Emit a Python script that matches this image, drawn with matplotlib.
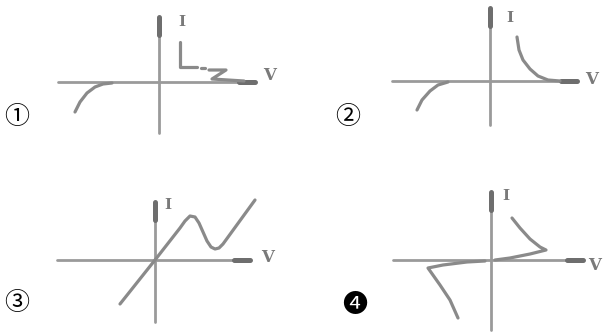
import matplotlib
matplotlib.use("Agg")
from matplotlib import pyplot as plt

W, H = 607, 334

# panel layout in pixels: (x0, y0, w, h, origin_x, origin_y)
panels = [
    (0, 0, 303, 167, 159, 82),
    (303, 0, 304, 167, 490, 81),
    (0, 167, 303, 167, 155, 260),
    (303, 167, 304, 167, 491, 260),
]

# axis extents relative to origin: (v_min, v_max, i_min, i_max)
axis_ext = [
    (-101, 96, -51, 65),
    (-98, 87, -44, 73),
    (-98, 95, -62, 58),
    (-98, 92, -70, 68),
]

numbers = ["\u2460", "\u2461", "\u2462", "\u2779"]
number_pos = [(17, 117), (348, 117), (17, 303), (355, 305)]

# I-V curves (V, I), per panel a list of strokes
curve1_a_v = [-84, -79, -72, -64, -56, -47]
curve1_a_i = [-30, -20, -11, -5, -2, -1]
curve1_b_v = [21, 21, 21, 30, 38]
curve1_b_i = [40, 27, 15, 15, 15]
curve1_c_v = [42, 46]
curve1_c_i = [14, 14]
curve1_d_v = [50, 67, 53, 85]
curve1_d_i = [12, 12, 3, 1]

curve2_a_v = [-73, -68, -60, -52, -42]
curve2_a_i = [-29, -19, -10, -4, -1]
curve2_b_v = [27, 29, 33, 40, 48, 58, 70]
curve2_b_i = [44, 31, 21, 12, 5, 1, 0]

curve3_v = [-35, 0, 25, 30, 35, 40, 44, 48, 52, 56, 60, 64, 68, 100]
curve3_i = [-44, 0, 32, 39, 44, 43, 37, 28, 19, 13, 11, 12, 16, 60]

curve4_a_v = [21, 29, 39, 49, 55, 39, 19, 4]
curve4_a_i = [42, 32, 21, 13, 10, 6, 2, 0]
curve4_b_v = [-33, -41, -51, -63, -48, -24, -6]
curve4_b_i = [-58, -40, -25, -8, -5, -2, -1]

strokes = [
    [(curve1_a_v, curve1_a_i), (curve1_b_v, curve1_b_i),
     (curve1_c_v, curve1_c_i), (curve1_d_v, curve1_d_i)],
    [(curve2_a_v, curve2_a_i), (curve2_b_v, curve2_b_i)],
    [(curve3_v, curve3_i)],
    [(curve4_a_v, curve4_a_i), (curve4_b_v, curve4_b_i)],
]

label_i_pos = [(23, 60), (20, 63), (13, 55), (15, 64)]
label_v_pos = [(111, 7), (102, 1), (113, 2), (104, -5)]

line_col = "#8a8a8a"
axis_col = "#9a9a9a"
head_col = "#6e6e6e"

fig = plt.figure(figsize=(W / 100, H / 100), dpi=100)
fig.patch.set_facecolor("white")

for k, (x0, y0, w, h, ox, oy) in enumerate(panels):
    ax = fig.add_axes([x0 / W, 1 - (y0 + h) / H, w / W, h / H])
    ax.set_xlim(x0 - ox, x0 + w - ox)
    ax.set_ylim(oy - (y0 + h), oy - y0)
    ax.axis("off")

    vmin, vmax, imin, imax = axis_ext[k]
    ax.plot([vmin, vmax], [0, 0], color=axis_col, lw=2.0, solid_capstyle="round")
    ax.plot([0, 0], [imin, imax], color=axis_col, lw=2.0, solid_capstyle="round")
    # thick arrow ends
    ax.plot([vmax - 16, vmax], [0, 0], color=head_col, lw=3.6, solid_capstyle="round")
    ax.plot([0, 0], [imax - 18, imax], color=head_col, lw=3.6, solid_capstyle="round")

    for sv, si in strokes[k]:
        ax.plot(sv, si, color=line_col, lw=2.3, solid_capstyle="round",
                solid_joinstyle="round")

    ax.text(*label_i_pos[k], "I", color="#7a7a7a", fontsize=11,
            family="DejaVu Serif", fontweight="bold", ha="center", va="center")
    ax.text(*label_v_pos[k], "V", color="#7a7a7a", fontsize=12,
            family="DejaVu Serif", fontweight="bold", ha="center", va="center")

# circled numbers on a figure-wide overlay in pixel units
ov = fig.add_axes([0, 0, 1, 1])
ov.set_xlim(0, W)
ov.set_ylim(H, 0)
ov.axis("off")
for s, (px, py) in zip(numbers, number_pos):
    ov.text(px, py, s, fontsize=18, color="black", ha="center", va="center",
            family=["Noto Sans CJK SC", "DejaVu Sans"])

fig.savefig("out.png", dpi=100, facecolor="white")
